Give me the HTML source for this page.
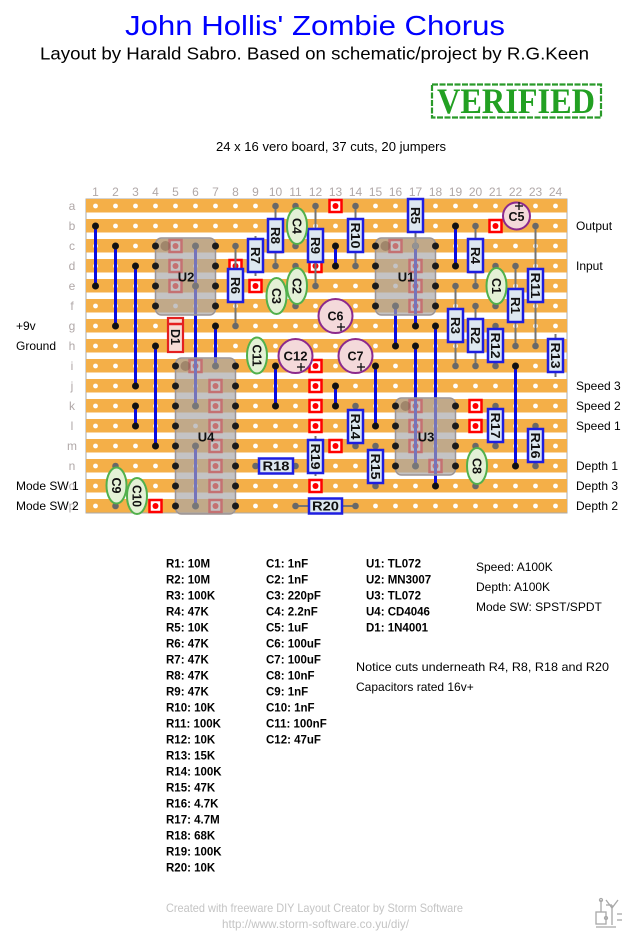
<!DOCTYPE html>
<html><head><meta charset="utf-8"><style>
html,body{margin:0;padding:0;background:#fff;}
svg{display:block;}
.j{stroke:#0b0be0;stroke-width:3;}
.jd{fill:#111;}
.l{stroke:#747474;stroke-width:2;}
.ld{fill:#686868;}
.cut{fill:#fff;stroke:#f00;stroke-width:2.5;}
.cd{fill:#f00;}
.ic{fill:rgba(168,166,168,0.68);stroke:#9c9494;stroke-width:1.5;}
.pin{fill:#1a1a1a;}
.p1{fill:rgba(120,90,70,0.45);}
.rb{fill:#dde8f0;stroke:#1e1ee0;stroke-width:2.5;}
.fc{fill:#e4f1d6;stroke:#52b04c;stroke-width:2;}
.ec{fill:#f4d9da;stroke:#8c2a8c;stroke-width:2;}
.lb{font-family:"Liberation Sans",sans-serif;font-weight:bold;font-size:13px;fill:#111;text-anchor:middle;}
.icl{font-family:"Liberation Sans",sans-serif;font-weight:bold;font-size:13px;fill:#111;text-anchor:middle;}
.num{font-family:"Liberation Sans",sans-serif;font-size:12px;fill:#b0a8a8;text-anchor:middle;}
.side{font-family:"Liberation Sans",sans-serif;font-size:12px;fill:#000;}
.leg{font-family:"Liberation Sans",sans-serif;font-weight:bold;font-size:11.5px;fill:#000;}
.pl{stroke:#111;stroke-width:1.3;}
</style></head><body>
<svg width="631" height="933" viewBox="0 0 631 933" xmlns="http://www.w3.org/2000/svg">
<defs>
<pattern id="st" x="86" y="199" width="20" height="20" patternUnits="userSpaceOnUse"><rect width="20" height="13.5" fill="#f4af48"/></pattern>
<pattern id="ho" x="85.5" y="196" width="20" height="20" patternUnits="userSpaceOnUse"><circle cx="10" cy="10" r="2.4" fill="#fff"/></pattern>
</defs>
<rect width="631" height="933" fill="#fff"/>

<!-- Titles -->
<text x="315" y="35" font-family="Liberation Sans, sans-serif" font-size="28" fill="#0000ff" text-anchor="middle" textLength="380" lengthAdjust="spacingAndGlyphs">John Hollis' Zombie Chorus</text>
<text x="314.5" y="59.5" font-family="Liberation Sans, sans-serif" font-size="17.5" fill="#000" text-anchor="middle" textLength="549" lengthAdjust="spacingAndGlyphs">Layout by Harald Sabro. Based on schematic/project by R.G.Keen</text>

<!-- VERIFIED stamp -->
<rect x="432" y="84.5" width="169" height="33" fill="none" stroke="#2a9a2a" stroke-width="2.2" stroke-dasharray="6 1.5"/>
<text x="516" y="113" font-family="Liberation Serif, serif" font-weight="bold" font-size="36" fill="#22a022" text-anchor="middle" textLength="158" lengthAdjust="spacingAndGlyphs">VERIFIED</text>

<text x="331" y="151" font-family="Liberation Sans, sans-serif" font-size="13" fill="#000" text-anchor="middle" textLength="230" lengthAdjust="spacingAndGlyphs">24 x 16 vero board, 37 cuts, 20 jumpers</text>

<!-- column numbers -->
<g class="num">
<text x="95.5" y="196">1</text><text x="115.5" y="196">2</text><text x="135.5" y="196">3</text><text x="155.5" y="196">4</text><text x="175.5" y="196">5</text><text x="195.5" y="196">6</text><text x="215.5" y="196">7</text><text x="235.5" y="196">8</text><text x="255.5" y="196">9</text><text x="275.5" y="196">10</text><text x="295.5" y="196">11</text><text x="315.5" y="196">12</text><text x="335.5" y="196">13</text><text x="355.5" y="196">14</text><text x="375.5" y="196">15</text><text x="395.5" y="196">16</text><text x="415.5" y="196">17</text><text x="435.5" y="196">18</text><text x="455.5" y="196">19</text><text x="475.5" y="196">20</text><text x="495.5" y="196">21</text><text x="515.5" y="196">22</text><text x="535.5" y="196">23</text><text x="555.5" y="196">24</text>
</g>
<!-- row letters -->
<g class="num">
<text x="72" y="210">a</text><text x="72" y="230">b</text><text x="72" y="250">c</text><text x="72" y="270">d</text><text x="72" y="290">e</text><text x="72" y="310">f</text><text x="72" y="330">g</text><text x="72" y="350">h</text><text x="72" y="370">i</text><text x="72" y="390">j</text><text x="72" y="410">k</text><text x="72" y="430">l</text><text x="72" y="450">m</text><text x="72" y="470">n</text><text x="72" y="490">o</text><text x="72" y="510">p</text>
</g>

<!-- side labels -->
<g class="side">
<text x="16" y="330">+9v</text>
<text x="16" y="350">Ground</text>
<text x="16" y="490">Mode SW 1</text>
<text x="16" y="510">Mode SW 2</text>
<text x="576" y="230">Output</text>
<text x="576" y="270">Input</text>
<text x="576" y="390">Speed 3</text>
<text x="576" y="410">Speed 2</text>
<text x="576" y="430">Speed 1</text>
<text x="576" y="470">Depth 1</text>
<text x="576" y="490">Depth 3</text>
<text x="576" y="510">Depth 2</text>
</g>

<!-- board -->
<rect x="86" y="199" width="481" height="314" fill="#fff" stroke="#aaa" stroke-width="1"/>
<rect x="86" y="199" width="481" height="314" fill="url(#st)"/>
<rect x="86" y="196" width="480" height="320" fill="url(#ho)"/>

<!-- cuts -->
<g>
<rect class="cut" x="329.5" y="200" width="12" height="12"/><circle class="cd" cx="335.5" cy="206" r="3"/>
<rect class="cut" x="269.5" y="240" width="12" height="12"/><circle class="cd" cx="275.5" cy="246" r="3"/>
<rect class="cut" x="229.5" y="260" width="12" height="12"/><circle class="cd" cx="235.5" cy="266" r="3"/>
<rect class="cut" x="309.5" y="260" width="12" height="12"/><circle class="cd" cx="315.5" cy="266" r="3"/>
<rect class="cut" x="249.5" y="280" width="12" height="12"/><circle class="cd" cx="255.5" cy="286" r="3"/>
<rect class="cut" x="489.5" y="220" width="12" height="12"/><circle class="cd" cx="495.5" cy="226" r="3"/>
<rect class="cut" x="469.5" y="260" width="12" height="12"/><circle class="cd" cx="475.5" cy="266" r="3"/>
<rect class="cut" x="309.5" y="360" width="12" height="12"/><circle class="cd" cx="315.5" cy="366" r="3"/>
<rect class="cut" x="309.5" y="380" width="12" height="12"/><circle class="cd" cx="315.5" cy="386" r="3"/>
<rect class="cut" x="309.5" y="400" width="12" height="12"/><circle class="cd" cx="315.5" cy="406" r="3"/>
<rect class="cut" x="309.5" y="420" width="12" height="12"/><circle class="cd" cx="315.5" cy="426" r="3"/>
<rect class="cut" x="309.5" y="480" width="12" height="12"/><circle class="cd" cx="315.5" cy="486" r="3"/>
<rect class="cut" x="329.5" y="440" width="12" height="12"/><circle class="cd" cx="335.5" cy="446" r="3"/>
<rect class="cut" x="309.5" y="500" width="12" height="12"/><circle class="cd" cx="315.5" cy="506" r="3"/>
<rect class="cut" x="469.5" y="400" width="12" height="12"/><circle class="cd" cx="475.5" cy="406" r="3"/>
<rect class="cut" x="469.5" y="420" width="12" height="12"/><circle class="cd" cx="475.5" cy="426" r="3"/>
<rect class="cut" x="149.5" y="500" width="12" height="12"/><circle class="cd" cx="155.5" cy="506" r="3"/>
<rect class="cut" x="269.5" y="460" width="12" height="12"/><circle class="cd" cx="275.5" cy="466" r="3"/>
<!-- under U2 -->
<rect class="cut" x="169.5" y="240" width="12" height="12"/><circle class="cd" cx="175.5" cy="246" r="3"/>
<rect class="cut" x="169.5" y="260" width="12" height="12"/><circle class="cd" cx="175.5" cy="266" r="3"/>
<rect class="cut" x="169.5" y="280" width="12" height="12"/><circle class="cd" cx="175.5" cy="286" r="3"/>
<!-- under U1 -->
<rect class="cut" x="389.5" y="240" width="12" height="12"/><circle class="cd" cx="395.5" cy="246" r="3"/>
<rect class="cut" x="409.5" y="260" width="12" height="12"/><circle class="cd" cx="415.5" cy="266" r="3"/>
<rect class="cut" x="409.5" y="280" width="12" height="12"/><circle class="cd" cx="415.5" cy="286" r="3"/>
<rect class="cut" x="409.5" y="300" width="12" height="12"/><circle class="cd" cx="415.5" cy="306" r="3"/>
<!-- under U3 -->
<rect class="cut" x="409.5" y="400" width="12" height="12"/><circle class="cd" cx="415.5" cy="406" r="3"/>
<rect class="cut" x="409.5" y="420" width="12" height="12"/><circle class="cd" cx="415.5" cy="426" r="3"/>
<rect class="cut" x="409.5" y="440" width="12" height="12"/><circle class="cd" cx="415.5" cy="446" r="3"/>
<rect class="cut" x="429.5" y="460" width="12" height="12"/><circle class="cd" cx="435.5" cy="466" r="3"/>
<!-- under U4 -->
<rect class="cut" x="189.5" y="360" width="12" height="12"/><circle class="cd" cx="195.5" cy="366" r="3"/>
<rect class="cut" x="209.5" y="380" width="12" height="12"/><circle class="cd" cx="215.5" cy="386" r="3"/>
<rect class="cut" x="209.5" y="400" width="12" height="12"/><circle class="cd" cx="215.5" cy="406" r="3"/>
<rect class="cut" x="209.5" y="420" width="12" height="12"/><circle class="cd" cx="215.5" cy="426" r="3"/>
<rect class="cut" x="209.5" y="440" width="12" height="12"/><circle class="cd" cx="215.5" cy="446" r="3"/>
<rect class="cut" x="209.5" y="460" width="12" height="12"/><circle class="cd" cx="215.5" cy="466" r="3"/>
<rect class="cut" x="209.5" y="480" width="12" height="12"/><circle class="cd" cx="215.5" cy="486" r="3"/>
<rect class="cut" x="209.5" y="500" width="12" height="12"/><circle class="cd" cx="215.5" cy="506" r="3"/>
</g>

<!-- jumpers -->
<g>
<line class="j" x1="95.5" y1="226" x2="95.5" y2="286"/><circle class="jd" cx="95.5" cy="226" r="3.5"/><circle class="jd" cx="95.5" cy="286" r="3.5"/>
<line class="j" x1="115.5" y1="246" x2="115.5" y2="326"/><circle class="jd" cx="115.5" cy="246" r="3.5"/><circle class="jd" cx="115.5" cy="326" r="3.5"/>
<line class="j" x1="135.5" y1="266" x2="135.5" y2="386"/><circle class="jd" cx="135.5" cy="266" r="3.5"/><circle class="jd" cx="135.5" cy="386" r="3.5"/>
<line class="j" x1="135.5" y1="406" x2="135.5" y2="426"/><circle class="jd" cx="135.5" cy="406" r="3.5"/><circle class="jd" cx="135.5" cy="426" r="3.5"/>
<line class="j" x1="155.5" y1="346" x2="155.5" y2="446"/><circle class="jd" cx="155.5" cy="346" r="3.5"/><circle class="jd" cx="155.5" cy="446" r="3.5"/>
<line class="j" x1="195.5" y1="246" x2="195.5" y2="406"/><circle class="jd" cx="195.5" cy="246" r="3.5"/><circle class="jd" cx="195.5" cy="286" r="3.5"/><circle class="jd" cx="195.5" cy="406" r="3.5"/>
<line class="j" x1="195.5" y1="446" x2="195.5" y2="506"/><circle class="jd" cx="195.5" cy="446" r="3.5"/><circle class="jd" cx="195.5" cy="506" r="3.5"/>
<line class="j" x1="215.5" y1="326" x2="215.5" y2="366"/><circle class="jd" cx="215.5" cy="326" r="3.5"/><circle class="jd" cx="215.5" cy="366" r="3.5"/>
<line class="j" x1="275.5" y1="366" x2="275.5" y2="406"/><circle class="jd" cx="275.5" cy="366" r="3.5"/><circle class="jd" cx="275.5" cy="406" r="3.5"/>
<line class="j" x1="335.5" y1="246" x2="335.5" y2="266"/><circle class="jd" cx="335.5" cy="246" r="3.5"/><circle class="jd" cx="335.5" cy="266" r="3.5"/>
<line class="j" x1="335.5" y1="386" x2="335.5" y2="406"/><circle class="jd" cx="335.5" cy="386" r="3.5"/><circle class="jd" cx="335.5" cy="406" r="3.5"/>
<line class="j" x1="375.5" y1="366" x2="375.5" y2="426"/><circle class="jd" cx="375.5" cy="366" r="3.5"/><circle class="jd" cx="375.5" cy="426" r="3.5"/>
<line class="j" x1="395.5" y1="306" x2="395.5" y2="346"/><circle class="jd" cx="395.5" cy="306" r="3.5"/><circle class="jd" cx="395.5" cy="346" r="3.5"/>
<line class="j" x1="415.5" y1="246" x2="415.5" y2="326"/><circle class="jd" cx="415.5" cy="246" r="3.5"/><circle class="jd" cx="415.5" cy="326" r="3.5"/>
<line class="j" x1="415.5" y1="346" x2="415.5" y2="466"/><circle class="jd" cx="415.5" cy="346" r="3.5"/><circle class="jd" cx="415.5" cy="466" r="3.5"/>
<line class="j" x1="435.5" y1="326" x2="435.5" y2="486"/><circle class="jd" cx="435.5" cy="326" r="3.5"/><circle class="jd" cx="435.5" cy="486" r="3.5"/>
<line class="j" x1="455.5" y1="226" x2="455.5" y2="266"/><circle class="jd" cx="455.5" cy="226" r="3.5"/><circle class="jd" cx="455.5" cy="266" r="3.5"/>
<line class="j" x1="515.5" y1="366" x2="515.5" y2="466"/><circle class="jd" cx="515.5" cy="366" r="3.5"/><circle class="jd" cx="515.5" cy="466" r="3.5"/>
</g>

<!-- component leads -->
<g>
<line class="l" x1="415.5" y1="206" x2="415.5" y2="246"/><circle class="ld" cx="415.5" cy="246" r="3.3"/>
<line class="l" x1="355.5" y1="206" x2="355.5" y2="266"/><circle class="ld" cx="355.5" cy="206" r="3.3"/><circle class="ld" cx="355.5" cy="266" r="3.3"/>
<line class="l" x1="275.5" y1="206" x2="275.5" y2="266"/><circle class="ld" cx="275.5" cy="206" r="3.3"/><circle class="ld" cx="275.5" cy="266" r="3.3"/>
<line class="l" x1="315.5" y1="206" x2="315.5" y2="286"/><circle class="ld" cx="315.5" cy="206" r="3.3"/><circle class="ld" cx="315.5" cy="286" r="3.3"/>
<line class="l" x1="255.5" y1="236" x2="255.5" y2="276"/>
<line class="l" x1="235.5" y1="246" x2="235.5" y2="326"/><circle class="ld" cx="235.5" cy="246" r="3.3"/><circle class="ld" cx="235.5" cy="326" r="3.3"/>
<line class="l" x1="295.5" y1="206" x2="295.5" y2="246"/><circle class="ld" cx="295.5" cy="206" r="3.3"/><circle class="ld" cx="295.5" cy="246" r="3.3"/>
<line class="l" x1="295.5" y1="266" x2="295.5" y2="306"/><circle class="ld" cx="295.5" cy="266" r="3.3"/><circle class="ld" cx="295.5" cy="306" r="3.3"/>
<line class="l" x1="475.5" y1="226" x2="475.5" y2="286"/><circle class="ld" cx="475.5" cy="226" r="3.3"/><circle class="ld" cx="475.5" cy="286" r="3.3"/>
<line class="l" x1="535.5" y1="226" x2="535.5" y2="346"/><circle class="ld" cx="535.5" cy="226" r="3.3"/><circle class="ld" cx="535.5" cy="346" r="3.3"/>
<line class="l" x1="515.5" y1="266" x2="515.5" y2="346"/><circle class="ld" cx="515.5" cy="266" r="3.3"/><circle class="ld" cx="515.5" cy="346" r="3.3"/>
<line class="l" x1="495.5" y1="266" x2="495.5" y2="306"/><circle class="ld" cx="495.5" cy="266" r="3.3"/><circle class="ld" cx="495.5" cy="306" r="3.3"/>
<line class="l" x1="455.5" y1="286" x2="455.5" y2="366"/><circle class="ld" cx="455.5" cy="286" r="3.3"/><circle class="ld" cx="455.5" cy="366" r="3.3"/>
<line class="l" x1="475.5" y1="306" x2="475.5" y2="366"/><circle class="ld" cx="475.5" cy="306" r="3.3"/><circle class="ld" cx="475.5" cy="366" r="3.3"/>
<line class="l" x1="495.5" y1="326" x2="495.5" y2="366"/><circle class="ld" cx="495.5" cy="326" r="3.3"/><circle class="ld" cx="495.5" cy="366" r="3.3"/>
<line class="l" x1="555.5" y1="334" x2="555.5" y2="377"/>
<line class="l" x1="495.5" y1="406" x2="495.5" y2="446"/><circle class="ld" cx="495.5" cy="406" r="3.3"/><circle class="ld" cx="495.5" cy="446" r="3.3"/>
<line class="l" x1="535.5" y1="426" x2="535.5" y2="466"/><circle class="ld" cx="535.5" cy="426" r="3.3"/><circle class="ld" cx="535.5" cy="466" r="3.3"/>
<line class="l" x1="475.5" y1="446" x2="475.5" y2="486"/><circle class="ld" cx="475.5" cy="446" r="3.3"/><circle class="ld" cx="475.5" cy="486" r="3.3"/>
<line class="l" x1="355.5" y1="406" x2="355.5" y2="446"/><circle class="ld" cx="355.5" cy="406" r="3.3"/><circle class="ld" cx="355.5" cy="446" r="3.3"/>
<line class="l" x1="375.5" y1="446" x2="375.5" y2="486"/><circle class="ld" cx="375.5" cy="446" r="3.3"/><circle class="ld" cx="375.5" cy="486" r="3.3"/>
<line class="l" x1="315.5" y1="436" x2="315.5" y2="476"/>
<line class="l" x1="255.5" y1="466" x2="295.5" y2="466"/><circle class="ld" cx="255.5" cy="466" r="3.3"/><circle class="ld" cx="295.5" cy="466" r="3.3"/>
<line class="l" x1="295.5" y1="506" x2="355.5" y2="506"/><circle class="ld" cx="295.5" cy="506" r="3.3"/><circle class="ld" cx="355.5" cy="506" r="3.3"/>
<line class="l" x1="115.5" y1="466" x2="115.5" y2="506"/><circle class="ld" cx="115.5" cy="466" r="3.3"/><circle class="ld" cx="115.5" cy="506" r="3.3"/>
</g>

<!-- ICs -->
<g>
<rect class="ic" x="155.5" y="238" width="60" height="77" rx="6"/>
<rect class="ic" x="375.5" y="238" width="60" height="77" rx="6"/>
<rect class="ic" x="395.5" y="398" width="60" height="77" rx="6"/>
<rect class="ic" x="175.5" y="358" width="60" height="156" rx="6"/>
<circle class="p1" cx="165.5" cy="246" r="5"/>
<circle class="p1" cx="385.5" cy="246" r="5"/>
<circle class="p1" cx="405.5" cy="406" r="5"/>
<circle class="p1" cx="185.5" cy="366" r="5"/>
</g>
<g>
<!-- U2 pins -->
<circle class="pin" cx="155.5" cy="246" r="3.5"/><circle class="pin" cx="155.5" cy="266" r="3.5"/><circle class="pin" cx="155.5" cy="286" r="3.5"/><circle class="pin" cx="155.5" cy="306" r="3.5"/>
<circle class="pin" cx="215.5" cy="246" r="3.5"/><circle class="pin" cx="215.5" cy="266" r="3.5"/><circle class="pin" cx="215.5" cy="286" r="3.5"/><circle class="pin" cx="215.5" cy="306" r="3.5"/>
<!-- U1 pins -->
<circle class="pin" cx="375.5" cy="246" r="3.5"/><circle class="pin" cx="375.5" cy="266" r="3.5"/><circle class="pin" cx="375.5" cy="286" r="3.5"/><circle class="pin" cx="375.5" cy="306" r="3.5"/>
<circle class="pin" cx="435.5" cy="246" r="3.5"/><circle class="pin" cx="435.5" cy="266" r="3.5"/><circle class="pin" cx="435.5" cy="286" r="3.5"/><circle class="pin" cx="435.5" cy="306" r="3.5"/>
<!-- U3 pins -->
<circle class="pin" cx="395.5" cy="406" r="3.5"/><circle class="pin" cx="395.5" cy="426" r="3.5"/><circle class="pin" cx="395.5" cy="446" r="3.5"/><circle class="pin" cx="395.5" cy="466" r="3.5"/>
<circle class="pin" cx="455.5" cy="406" r="3.5"/><circle class="pin" cx="455.5" cy="426" r="3.5"/><circle class="pin" cx="455.5" cy="446" r="3.5"/><circle class="pin" cx="455.5" cy="466" r="3.5"/>
<!-- U4 pins -->
<circle class="pin" cx="175.5" cy="366" r="3.5"/><circle class="pin" cx="175.5" cy="386" r="3.5"/><circle class="pin" cx="175.5" cy="406" r="3.5"/><circle class="pin" cx="175.5" cy="426" r="3.5"/><circle class="pin" cx="175.5" cy="446" r="3.5"/><circle class="pin" cx="175.5" cy="466" r="3.5"/><circle class="pin" cx="175.5" cy="486" r="3.5"/><circle class="pin" cx="175.5" cy="506" r="3.5"/>
<circle class="pin" cx="235.5" cy="366" r="3.5"/><circle class="pin" cx="235.5" cy="386" r="3.5"/><circle class="pin" cx="235.5" cy="406" r="3.5"/><circle class="pin" cx="235.5" cy="426" r="3.5"/><circle class="pin" cx="235.5" cy="446" r="3.5"/><circle class="pin" cx="235.5" cy="466" r="3.5"/><circle class="pin" cx="235.5" cy="486" r="3.5"/><circle class="pin" cx="235.5" cy="506" r="3.5"/>
</g>
<g class="icl">
<text x="186" y="281.5">U2</text>
<text x="406" y="281.5">U1</text>
<text x="426" y="441.5">U3</text>
<text x="206" y="441.5">U4</text>
</g>

<!-- Resistors (vertical) -->
<g>
<rect class="rb" x="408" y="199" width="15" height="33"/><text class="lb" transform="translate(415.5,215.5) rotate(90)" y="4.6" textLength="17" lengthAdjust="spacingAndGlyphs">R5</text>
<rect class="rb" x="348" y="219" width="15" height="33"/><text class="lb" transform="translate(355.5,235.5) rotate(90)" y="4.6" textLength="26" lengthAdjust="spacingAndGlyphs">R10</text>
<rect class="rb" x="268" y="219" width="15" height="33"/><text class="lb" transform="translate(275.5,235.5) rotate(90)" y="4.6" textLength="17" lengthAdjust="spacingAndGlyphs">R8</text>
<rect class="rb" x="308" y="229" width="15" height="33"/><text class="lb" transform="translate(315.5,245.5) rotate(90)" y="4.6" textLength="17" lengthAdjust="spacingAndGlyphs">R9</text>
<rect class="rb" x="248" y="239" width="15" height="33"/><text class="lb" transform="translate(255.5,255.5) rotate(90)" y="4.6" textLength="17" lengthAdjust="spacingAndGlyphs">R7</text>
<rect class="rb" x="228" y="269" width="15" height="33"/><text class="lb" transform="translate(235.5,285.5) rotate(90)" y="4.6" textLength="17" lengthAdjust="spacingAndGlyphs">R6</text>
<rect class="rb" x="468" y="239" width="15" height="33"/><text class="lb" transform="translate(475.5,255.5) rotate(90)" y="4.6" textLength="17" lengthAdjust="spacingAndGlyphs">R4</text>
<rect class="rb" x="528" y="269" width="15" height="33"/><text class="lb" transform="translate(535.5,285.5) rotate(90)" y="4.6" textLength="26" lengthAdjust="spacingAndGlyphs">R11</text>
<rect class="rb" x="508" y="289" width="15" height="33"/><text class="lb" transform="translate(515.5,305.5) rotate(90)" y="4.6" textLength="17" lengthAdjust="spacingAndGlyphs">R1</text>
<rect class="rb" x="448" y="309" width="15" height="33"/><text class="lb" transform="translate(455.5,325.5) rotate(90)" y="4.6" textLength="17" lengthAdjust="spacingAndGlyphs">R3</text>
<rect class="rb" x="468" y="319" width="15" height="33"/><text class="lb" transform="translate(475.5,335.5) rotate(90)" y="4.6" textLength="17" lengthAdjust="spacingAndGlyphs">R2</text>
<rect class="rb" x="488" y="329" width="15" height="33"/><text class="lb" transform="translate(495.5,345.5) rotate(90)" y="4.6" textLength="26" lengthAdjust="spacingAndGlyphs">R12</text>
<rect class="rb" x="548" y="339" width="15" height="33"/><text class="lb" transform="translate(555.5,355.5) rotate(90)" y="4.6" textLength="26" lengthAdjust="spacingAndGlyphs">R13</text>
<rect class="rb" x="488" y="409" width="15" height="33"/><text class="lb" transform="translate(495.5,425.5) rotate(90)" y="4.6" textLength="26" lengthAdjust="spacingAndGlyphs">R17</text>
<rect class="rb" x="528" y="429" width="15" height="33"/><text class="lb" transform="translate(535.5,445.5) rotate(90)" y="4.6" textLength="26" lengthAdjust="spacingAndGlyphs">R16</text>
<rect class="rb" x="348" y="410" width="15" height="33"/><text class="lb" transform="translate(355.5,426.5) rotate(90)" y="4.6" textLength="26" lengthAdjust="spacingAndGlyphs">R14</text>
<rect class="rb" x="368" y="450" width="15" height="33"/><text class="lb" transform="translate(375.5,466.5) rotate(90)" y="4.6" textLength="26" lengthAdjust="spacingAndGlyphs">R15</text>
<rect class="rb" x="308" y="440" width="15" height="33"/><text class="lb" transform="translate(315.5,456.5) rotate(90)" y="4.6" textLength="26" lengthAdjust="spacingAndGlyphs">R19</text>
<!-- horizontal -->
<rect class="rb" x="259" y="458.5" width="34" height="15"/><text class="lb" x="276" y="470.6" textLength="27" lengthAdjust="spacingAndGlyphs">R18</text>
<rect class="rb" x="309" y="498.5" width="33" height="15"/><text class="lb" x="325.5" y="510.6" textLength="27" lengthAdjust="spacingAndGlyphs">R20</text>
</g>

<!-- Diode D1 -->
<rect x="168" y="318" width="15" height="34" fill="#f6ddd6" stroke="#e42020" stroke-width="2.2"/>
<line x1="169" y1="324" x2="182" y2="324" stroke="#e42020" stroke-width="2.5"/>
<text class="lb" transform="translate(175.5,337) rotate(90)" y="4.6" textLength="16" lengthAdjust="spacingAndGlyphs">D1</text>

<!-- film caps -->
<g>
<ellipse class="fc" cx="297" cy="226" rx="10" ry="18"/><text class="lb" font-size="12.5" transform="translate(297,226) rotate(90)" y="4.4" textLength="16" lengthAdjust="spacingAndGlyphs">C4</text>
<ellipse class="fc" cx="297" cy="286" rx="10" ry="18"/><text class="lb" font-size="12.5" transform="translate(297,286) rotate(90)" y="4.4" textLength="16" lengthAdjust="spacingAndGlyphs">C2</text>
<ellipse class="fc" cx="276.5" cy="296" rx="10" ry="18"/><text class="lb" font-size="12.5" transform="translate(276.5,296) rotate(90)" y="4.4" textLength="16" lengthAdjust="spacingAndGlyphs">C3</text>
<ellipse class="fc" cx="496.5" cy="286" rx="10" ry="18"/><text class="lb" font-size="12.5" transform="translate(496.5,286) rotate(90)" y="4.4" textLength="16" lengthAdjust="spacingAndGlyphs">C1</text>
<ellipse class="fc" cx="477" cy="466" rx="10" ry="18"/><text class="lb" font-size="12.5" transform="translate(477,466) rotate(90)" y="4.4" textLength="16" lengthAdjust="spacingAndGlyphs">C8</text>
<ellipse class="fc" cx="257" cy="355.5" rx="10" ry="18"/><text class="lb" font-size="12.5" transform="translate(257,355.5) rotate(90)" y="4.4" textLength="22" lengthAdjust="spacingAndGlyphs">C11</text>
<ellipse class="fc" cx="116.5" cy="485.5" rx="10" ry="18"/><text class="lb" font-size="12.5" transform="translate(116.5,485.5) rotate(90)" y="4.4" textLength="16" lengthAdjust="spacingAndGlyphs">C9</text>
<ellipse class="fc" cx="137" cy="496" rx="10" ry="18"/><text class="lb" font-size="12.5" transform="translate(137,496) rotate(90)" y="4.4" textLength="22" lengthAdjust="spacingAndGlyphs">C10</text>
</g>

<!-- electrolytic caps -->
<g>
<circle class="ec" cx="335.5" cy="316" r="17"/><text class="lb" x="335.5" y="320.5" textLength="16" lengthAdjust="spacingAndGlyphs">C6</text>
<line class="pl" x1="337" y1="327" x2="345" y2="327"/><line class="pl" x1="341" y1="323" x2="341" y2="331"/>
<circle class="ec" cx="295.5" cy="356" r="17"/><text class="lb" x="295.5" y="360.5" textLength="24" lengthAdjust="spacingAndGlyphs">C12</text>
<line class="pl" x1="297" y1="367" x2="305" y2="367"/><line class="pl" x1="301" y1="363" x2="301" y2="371"/>
<circle class="ec" cx="355.5" cy="356" r="17"/><text class="lb" x="355.5" y="360.5" textLength="16" lengthAdjust="spacingAndGlyphs">C7</text>
<line class="pl" x1="357" y1="367" x2="365" y2="367"/><line class="pl" x1="361" y1="363" x2="361" y2="371"/>
<circle class="ec" cx="516.5" cy="216" r="13.5"/><text class="lb" x="516.5" y="221" textLength="16" lengthAdjust="spacingAndGlyphs">C5</text>
<line class="pl" x1="515" y1="206" x2="523" y2="206"/><line class="pl" x1="519" y1="202" x2="519" y2="210"/>
</g>

<!-- Legend -->
<g class="leg">
<text x="166" y="567.5">R1: 10M</text>
<text x="166" y="583.5">R2: 10M</text>
<text x="166" y="599.5">R3: 100K</text>
<text x="166" y="615.5">R4: 47K</text>
<text x="166" y="631.5">R5: 10K</text>
<text x="166" y="647.5">R6: 47K</text>
<text x="166" y="663.5">R7: 47K</text>
<text x="166" y="679.5">R8: 47K</text>
<text x="166" y="695.5">R9: 47K</text>
<text x="166" y="711.5">R10: 10K</text>
<text x="166" y="727.5">R11: 100K</text>
<text x="166" y="743.5">R12: 10K</text>
<text x="166" y="759.5">R13: 15K</text>
<text x="166" y="775.5">R14: 100K</text>
<text x="166" y="791.5">R15: 47K</text>
<text x="166" y="807.5">R16: 4.7K</text>
<text x="166" y="823.5">R17: 4.7M</text>
<text x="166" y="839.5">R18: 68K</text>
<text x="166" y="855.5">R19: 100K</text>
<text x="166" y="871.5">R20: 10K</text>

<text x="266" y="567.5">C1: 1nF</text>
<text x="266" y="583.5">C2: 1nF</text>
<text x="266" y="599.5">C3: 220pF</text>
<text x="266" y="615.5">C4: 2.2nF</text>
<text x="266" y="631.5">C5: 1uF</text>
<text x="266" y="647.5">C6: 100uF</text>
<text x="266" y="663.5">C7: 100uF</text>
<text x="266" y="679.5">C8: 10nF</text>
<text x="266" y="695.5">C9: 1nF</text>
<text x="266" y="711.5">C10: 1nF</text>
<text x="266" y="727.5">C11: 100nF</text>
<text x="266" y="743.5">C12: 47uF</text>

<text x="366" y="567.5">U1: TL072</text>
<text x="366" y="583.5">U2: MN3007</text>
<text x="366" y="599.5">U3: TL072</text>
<text x="366" y="615.5">U4: CD4046</text>
<text x="366" y="631.5">D1: 1N4001</text>
</g>
<g class="side">
<text x="476" y="571">Speed: A100K</text>
<text x="476" y="591">Depth: A100K</text>
<text x="476" y="611">Mode SW: SPST/SPDT</text>
<text x="356" y="671" textLength="253" lengthAdjust="spacingAndGlyphs">Notice cuts underneath R4, R8, R18 and R20</text>
<text x="356" y="691">Capacitors rated 16v+</text>
</g>

<!-- footer -->
<text x="166" y="912" font-family="Liberation Sans, sans-serif" font-size="12" fill="#c4c4c4" textLength="297" lengthAdjust="spacingAndGlyphs">Created with freeware DIY Layout Creator by Storm Software</text>
<text x="222" y="928" font-family="Liberation Sans, sans-serif" font-size="12" fill="#c4c4c4" textLength="187" lengthAdjust="spacingAndGlyphs">http://www.storm-software.co.yu/diy/</text>

<!-- DIY logo -->
<g stroke="#a8a8a8" stroke-width="1.3" fill="none">
<rect x="596" y="912" width="10" height="12"/>
<line x1="601" y1="900" x2="601" y2="912"/>
<line x1="606" y1="905" x2="612" y2="905"/>
<line x1="612" y1="905" x2="612" y2="925"/>
<line x1="612" y1="908" x2="618" y2="900"/>
<line x1="612" y1="908" x2="606" y2="900"/>
<line x1="617" y1="914" x2="622" y2="914"/>
<line x1="617" y1="920" x2="622" y2="920"/>
<line x1="596" y1="927" x2="616" y2="927"/>
<circle cx="601" cy="900" r="1.5"/>
<circle cx="606" cy="918" r="1.5"/>
</g>
</svg>
</body></html>
